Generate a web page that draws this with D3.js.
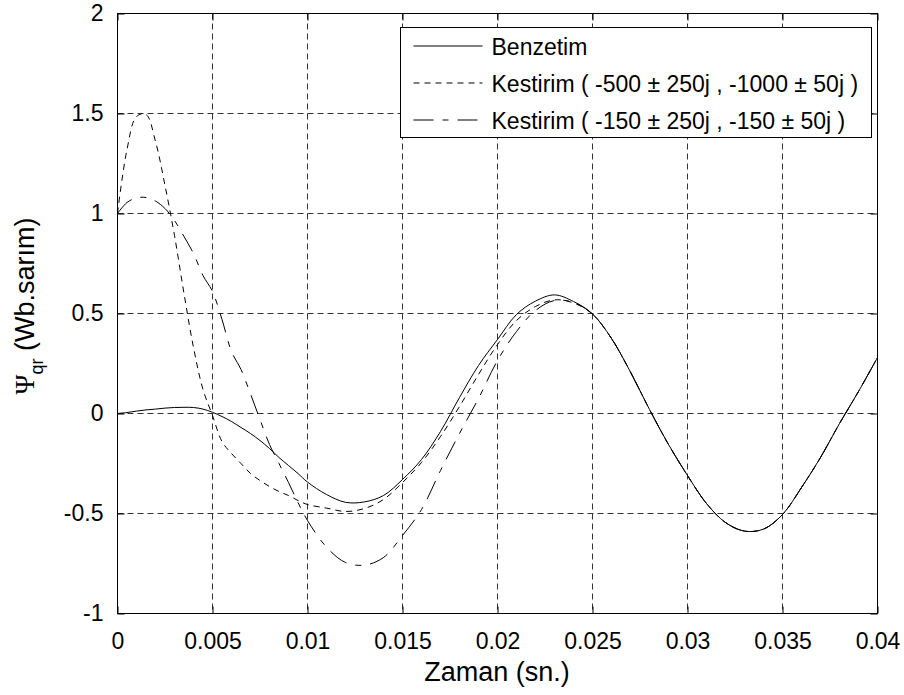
<!DOCTYPE html>
<html>
<head>
<meta charset="utf-8">
<script src="https://cdn.jsdelivr.net/npm/d3@7"></script>
<style>
    body { margin: 0; background: #fff; }
    svg { display: block; }
    text { font-family: "Liberation Sans", Arial, sans-serif; fill: #000; }
</style>
</head>
<body>
<svg id="chart" width="904" height="695"></svg>
<script>
"use strict"

// data (time in seconds, flux in Wb.turn)
const timeSec = [0, 0.0005, 0.001, 0.0015, 0.002, 0.0025, 0.003, 0.0035, 0.004, 0.0045,
    0.005, 0.0055, 0.006, 0.0065, 0.007, 0.0075, 0.008, 0.0085, 0.009, 0.0095,
    0.01, 0.011, 0.012, 0.013, 0.014, 0.015, 0.016, 0.017, 0.018, 0.019,
    0.02, 0.021, 0.022, 0.023, 0.024, 0.025, 0.026, 0.027, 0.028, 0.029,
    0.03, 0.031, 0.032, 0.033, 0.034, 0.035, 0.036, 0.037, 0.038, 0.039, 0.04];

const benzetim = [0, 0.005, 0.012, 0.018, 0.022, 0.027, 0.03, 0.031, 0.03, 0.022,
    0.006, -0.015, -0.04, -0.07, -0.1, -0.135, -0.175, -0.22, -0.26, -0.3,
    -0.343, -0.405, -0.444, -0.442, -0.41, -0.33, -0.23, -0.09, 0.08, 0.24,
    0.37, 0.495, 0.562, 0.593, 0.56, 0.498, 0.375, 0.207, 0.02, -0.155,
    -0.31, -0.45, -0.545, -0.588, -0.578, -0.505, -0.37, -0.22, -0.05, 0.11, 0.28];

const kestirimA = [1.0, 1.32, 1.485, 1.495, 1.36, 1.14, 0.89, 0.6, 0.33, 0.12,
    -0.01, -0.14, -0.2, -0.25, -0.3, -0.335, -0.365, -0.39, -0.41, -0.435,
    -0.455, -0.473, -0.49, -0.475, -0.43, -0.345, -0.245, -0.115, 0.035, 0.195,
    0.345, 0.465, 0.535, 0.568, 0.553, 0.497, 0.375, 0.207, 0.02, -0.155,
    -0.31, -0.45, -0.545, -0.588, -0.578, -0.505, -0.37, -0.22, -0.05, 0.11, 0.28];

const kestirimB = [1.0, 1.055, 1.078, 1.08, 1.062, 1.025, 0.965, 0.885, 0.8, 0.69,
    0.61, 0.47, 0.31, 0.22, 0.098, -0.03, -0.155, -0.25, -0.345, -0.445,
    -0.535, -0.668, -0.745, -0.758, -0.72, -0.61, -0.48, -0.285, -0.1, 0.075,
    0.265, 0.41, 0.515, 0.565, 0.555, 0.497, 0.375, 0.207, 0.02, -0.155,
    -0.31, -0.45, -0.545, -0.588, -0.578, -0.505, -0.37, -0.22, -0.05, 0.11, 0.28];

const seriesNames = [
    "Benzetim",
    "Kestirim ( -500 \u00b1 250j , -1000 \u00b1 50j )",
    "Kestirim ( -150 \u00b1 250j , -150 \u00b1 50j )"
];
const seriesDash = [null, "6,5", "20,9,6,9"];

const xTicks = [0, 0.005, 0.01, 0.015, 0.02, 0.025, 0.03, 0.035, 0.04];
const yTicks = [-1, -0.5, 0, 0.5, 1, 1.5, 2];

// layout
let margin = { top: 13, right: 27, bottom: 82, left: 117 };
let svg = d3.select("#chart");
let width = +svg.attr("width") - margin.left - margin.right;
let height = +svg.attr("height") - margin.top - margin.bottom;

let x = d3.scaleLinear().domain([0, 0.04]).range([0, width]);
let y = d3.scaleLinear().domain([-1, 2]).range([height, 0]);

let g = svg.append("g")
    .attr("transform", "translate(" + (margin.left + 0.5) + "," + (margin.top + 0.5) + ")");

// grid
let grid = g.append("g")
    .attr("stroke", "#333")
    .attr("stroke-width", 1)
    .attr("stroke-dasharray", "6,4");

grid.selectAll(".gx")
    .data(xTicks.slice(1, -1))
    .enter().append("line")
    .attr("x1", function (d) { return x(d); })
    .attr("x2", function (d) { return x(d); })
    .attr("y1", 0)
    .attr("y2", height);

grid.selectAll(".gy")
    .data(yTicks.slice(1, -1))
    .enter().append("line")
    .attr("y1", function (d) { return y(d); })
    .attr("y2", function (d) { return y(d); })
    .attr("x1", 0)
    .attr("x2", width);

// curves
g.append("clipPath").attr("id", "plot-clip")
    .append("rect").attr("width", width).attr("height", height);

let line = d3.line()
    .x(function (d) { return x(d[0]); })
    .y(function (d) { return y(d[1]); })
    .curve(d3.curveCatmullRom.alpha(0.5));

let series = [benzetim, kestirimA, kestirimB];

series.forEach(function (values, i) {
    g.append("path")
        .datum(d3.zip(timeSec, values))
        .attr("clip-path", "url(#plot-clip)")
        .attr("fill", "none")
        .attr("stroke", "#000")
        .attr("stroke-width", 1)
        .attr("stroke-dasharray", seriesDash[i])
        .attr("d", line);
});

// axes (inward ticks on all four sides, MATLAB style)
function styleAxis(sel) {
    sel.select(".domain").remove();
    sel.selectAll(".tick line").attr("stroke", "#000");
    sel.selectAll("text")
        .attr("font-family", "Liberation Sans, Arial, sans-serif")
        .attr("font-size", 23)
        .attr("fill", "#000");
}

g.append("g")
    .attr("transform", "translate(0," + height + ")")
    .call(d3.axisBottom(x).tickValues(xTicks).tickSize(-7).tickPadding(19)
        .tickFormat(function (d) { return String(d); }))
    .call(styleAxis);

g.append("g")
    .call(d3.axisLeft(y).tickValues(yTicks).tickSize(-7).tickPadding(14)
        .tickFormat(function (d) { return String(d); }))
    .call(styleAxis);

g.append("g")
    .call(d3.axisTop(x).tickValues(xTicks).tickSize(-7).tickFormat(""))
    .call(styleAxis);

g.append("g")
    .attr("transform", "translate(" + width + ",0)")
    .call(d3.axisRight(y).tickValues(yTicks).tickSize(-7).tickFormat(""))
    .call(styleAxis);

g.append("rect")
    .attr("width", width)
    .attr("height", height)
    .attr("fill", "none")
    .attr("stroke", "#000");

// axis labels
svg.append("text")
    .attr("x", margin.left + width / 2)
    .attr("y", 681)
    .attr("text-anchor", "middle")
    .attr("font-size", 27)
    .text("Zaman (sn.)");

let ylab = svg.append("text")
    .attr("transform", "translate(34,306) rotate(-90)")
    .attr("text-anchor", "middle")
    .attr("font-size", 27);
ylab.append("tspan")
    .style("font-family", "'Liberation Serif', serif")
    .text("\u03a8");
ylab.append("tspan")
    .attr("font-size", 18)
    .attr("dy", 9)
    .text("qr");
ylab.append("tspan")
    .attr("dy", -9)
    .text(" (Wb.sar\u0131m)");

// legend
let legend = svg.append("g").attr("transform", "translate(400.5,27.5)");

legend.append("rect")
    .attr("width", 471)
    .attr("height", 110)
    .attr("fill", "#fff")
    .attr("stroke", "#000");

let rows = legend.selectAll(".row")
    .data(seriesNames)
    .enter().append("g")
    .attr("class", "row")
    .attr("transform", function (d, i) { return "translate(0," + (18.5 + i * 37) + ")"; });

rows.append("line")
    .attr("x1", 13)
    .attr("x2", 82)
    .attr("stroke", "#000")
    .attr("stroke-dasharray", function (d, i) { return seriesDash[i]; });

rows.append("text")
    .attr("x", 91)
    .attr("y", 8.5)
    .attr("font-size", 23)
    .text(function (d) { return d; });
</script>
</body>
</html>
